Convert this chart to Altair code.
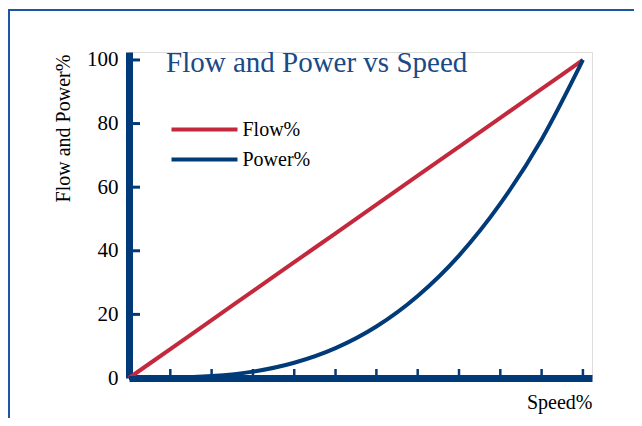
import altair as alt
import pandas as pd

speed = [0, 9.1, 18.2, 27.3, 36.4, 45.5, 54.5, 63.6, 72.7, 81.8, 90.9, 100]
flow = [0, 9.1, 18.2, 27.3, 36.4, 45.5, 54.5, 63.6, 72.7, 81.8, 90.9, 100]
power = [0, 0.1, 0.6, 2.0, 4.8, 9.4, 16.2, 25.8, 38.5, 54.8, 75.0, 100]
series_names = ["Flow%", "Power%"]
x_ticks = [9.1, 18.2, 27.3, 36.4, 45.5, 54.5, 63.6, 72.7, 81.8, 90.9, 100]
y_ticks = [20, 40, 60, 80, 100]

NAVY = "#003a78"
RED = "#c4283c"
FONT = "Liberation Serif"
W, H = 463, 326

df = pd.DataFrame({
    "speed": speed + speed,
    "value": flow + power,
    "series": [series_names[0]] * len(speed) + [series_names[1]] * len(speed),
})

xs = alt.Scale(domain=[0, 102], nice=False, zero=False)
ys = alt.Scale(domain=[0, 102.5], nice=False, zero=False)

border = alt.Chart(pd.DataFrame({"k": [0]})).mark_rect(
    fill=None, stroke="#1f56a0", strokeWidth=2, clip=False
).encode(
    x=alt.value(-120), x2=alt.value(700), y=alt.value(-42), y2=alt.value(700)
)

lines = alt.Chart(df).mark_line(strokeWidth=4, interpolate="monotone", strokeCap="butt").encode(
    x=alt.X("speed:Q", scale=xs, axis=alt.Axis(
        values=x_ticks, labels=False, ticks=False, tickSize=0, domainColor=NAVY, domainWidth=7,
        title="Speed%", titleFont=FONT, titleFontSize=20, titleFontWeight="normal", titleColor="black",
        titleAlign="right", titleBaseline="alphabetic", titleX=W, titleY=30, titleAnchor="end",
        grid=False)),
    y=alt.Y("value:Q", scale=ys, axis=alt.Axis(
        values=[0, 20, 40, 60, 80, 100], ticks=False, tickSize=0, labelPadding=11,
        labelFont=FONT, labelFontSize=21, labelColor="black", domainColor=NAVY, domainWidth=7,
        title="Flow and Power%", titleFont=FONT, titleFontSize=20, titleFontWeight="normal",
        titleColor="black", titleX=-66, titleY=76, titleAlign="center", titleBaseline="middle",
        titleAngle=270, grid=False)),
    color=alt.Color("series:N", scale=alt.Scale(domain=series_names, range=[RED, NAVY]),
                    legend=alt.Legend(title=None, orient="none", legendX=57, legendY=59,
                                      symbolType="M-2,0H2", symbolSize=1089, symbolStrokeWidth=4,
                                      labelFont=FONT, labelFontSize=20, labelColor="black",
                                      rowPadding=1, padding=0, labelOffset=19.5)),
)

xt = alt.Chart(pd.DataFrame({"t": x_ticks})).mark_rule(color=NAVY, strokeWidth=2.5).encode(
    x=alt.X("t:Q", scale=xs), y=alt.value(H - 3), y2=alt.value(H - 9)
)
yt = alt.Chart(pd.DataFrame({"t": y_ticks})).mark_rule(color=NAVY, strokeWidth=3).encode(
    y=alt.Y("t:Q", scale=ys), x=alt.value(3), x2=alt.value(11)
)

chart = alt.layer(border, xt, yt, lines).properties(
    width=W, height=H,
    title=alt.TitleParams("Flow and Power vs Speed", font=FONT, fontSize=29, fontWeight="normal",
                          color="#1a4a86", anchor="start", frame="group", baseline="alphabetic",
                          dx=37, dy=92, offset=0),
    autosize=alt.AutoSizeParams(type="none"),
    padding={"left": 121, "top": 44, "right": 42, "bottom": 40},
).configure_view(stroke=None).configure(background="white")

chart.save("out.html", embed_options={"renderer": "svg", "actions": False})
